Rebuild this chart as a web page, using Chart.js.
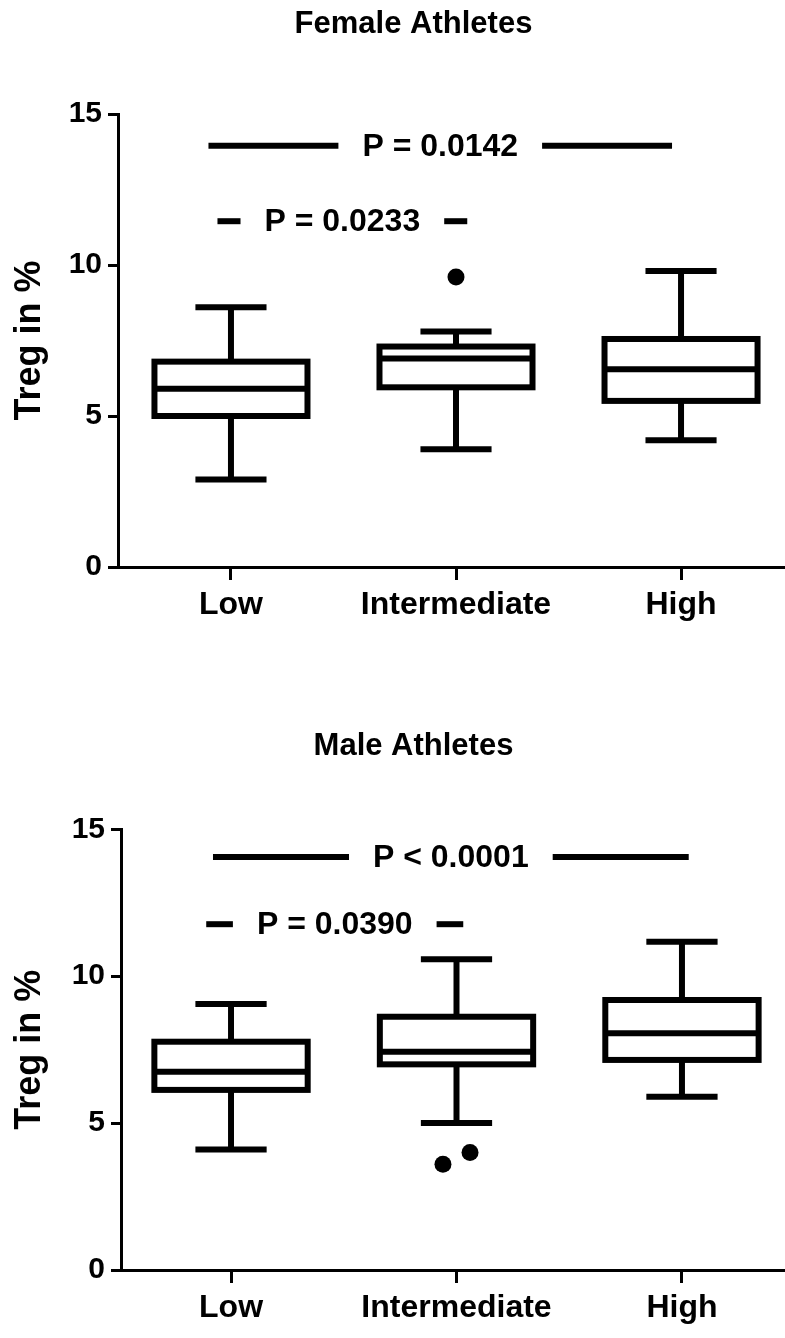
<!DOCTYPE html>
<html>
<head>
<meta charset="utf-8">
<script src="https://cdn.jsdelivr.net/npm/chart.js@4.4.1/dist/chart.umd.min.js"></script>
<style>
  html, body { margin: 0; padding: 0; background: #fff; }
  canvas { display: block; }
</style>
</head>
<body>
<canvas id="female" width="785" height="669"></canvas>
<canvas id="male" width="785" height="669"></canvas>
<script>
// Activity groups on the x axis
const groups = ['Low', 'Intermediate', 'High'];
const yTicks = [0, 5, 10, 15];

// Female athletes: Treg (%) box statistics per group
const femaleMin    = [2.9, 3.9, 4.2];
const femaleQ1     = [5.0, 5.95, 5.5];
const femaleMedian = [5.9, 6.9, 6.55];
const femaleQ3     = [6.8, 7.3, 7.55];
const femaleMax    = [8.6, 7.8, 9.8];
const femaleOutlierGroup = [1];
const femaleOutlierValue = [9.6];
const femaleSigLabel = ['P = 0.0142', 'P = 0.0233'];
const femaleSigLevel = [13.95, 11.45];
const femaleSigFrom  = [-0.1, -0.06];
const femaleSigTo    = [1.96, 1.05];

// Male athletes: Treg (%) box statistics per group
const maleMin    = [4.1, 5.0, 5.9];
const maleQ1     = [6.13, 7.0, 7.15];
const maleMedian = [6.75, 7.43, 8.06];
const maleQ3     = [7.77, 8.62, 9.19];
const maleMax    = [9.05, 10.58, 11.17];
const maleOutlierGroup = [1, 1];
const maleOutlierValue = [3.6, 4.0];
const maleSigLabel = ['P < 0.0001', 'P = 0.0390'];
const maleSigLevel = [14.06, 11.77];
const maleSigFrom  = [-0.08, -0.11];
const maleSigTo    = [2.03, 1.03];

const FONT = "'Liberation Sans', Arial, Helvetica, sans-serif";

// Draws whiskers, boxes, medians and significance bars with the chart's own scales,
// and the panel heading above the plot.
const boxPlotPlugin = {
  id: 'boxPlot',
  beforeDatasetsDraw(chart, args, opts) {
    const { ctx } = chart;
    const x = chart.scales.x, y = chart.scales.y;
    const s = opts.stats;
    const seg = (x1, y1, x2, y2) => { ctx.beginPath(); ctx.moveTo(x1, y1); ctx.lineTo(x2, y2); ctx.stroke(); };
    ctx.save();
    ctx.strokeStyle = '#000';
    ctx.lineWidth = opts.lineWidth;
    ctx.lineCap = 'butt';
    ctx.lineJoin = 'miter';
    s.median.forEach((m, i) => {
      const xc = x.getPixelForValue(i);
      const xl = x.getPixelForValue(i - opts.boxHalf);
      const xr = x.getPixelForValue(i + opts.boxHalf);
      const cl = x.getPixelForValue(i - opts.capHalf);
      const cr = x.getPixelForValue(i + opts.capHalf);
      const pMin = y.getPixelForValue(s.min[i]);
      const pQ1 = y.getPixelForValue(s.q1[i]);
      const pMed = y.getPixelForValue(m);
      const pQ3 = y.getPixelForValue(s.q3[i]);
      const pMax = y.getPixelForValue(s.max[i]);
      seg(xc, pQ3, xc, pMax);
      seg(xc, pQ1, xc, pMin);
      seg(cl, pMax, cr, pMax);
      seg(cl, pMin, cr, pMin);
      ctx.strokeRect(xl, pQ3, xr - xl, pQ1 - pQ3);
      seg(xl, pMed, xr, pMed);
    });
    // significance bars with the P value centred on each bar
    const sig = opts.sig;
    ctx.font = 'bold ' + opts.sigFontSize + 'px ' + FONT;
    ctx.fillStyle = '#000';
    ctx.textAlign = 'center';
    ctx.textBaseline = 'middle';
    sig.label.forEach((label, k) => {
      const x1 = x.getPixelForValue(sig.from[k]);
      const x2 = x.getPixelForValue(sig.to[k]);
      const py = y.getPixelForValue(sig.level[k]);
      const cx = (x1 + x2) / 2;
      const half = ctx.measureText(label).width / 2 + opts.sigGap;
      seg(x1, py, cx - half, py);
      seg(cx + half, py, x2, py);
      ctx.fillText(label, cx, py + 1);
    });
    // panel heading
    ctx.font = 'bold ' + opts.headingSize + 'px ' + FONT;
    ctx.fillText(opts.heading, opts.headingX, opts.headingY);
    ctx.restore();
  }
};

function makeChart(id, cfg) {
  const outliers = cfg.outlierGroup.map((g, i) => {
    const same = cfg.outlierGroup.filter(v => v === g).length;
    const rank = cfg.outlierGroup.slice(0, i).filter(v => v === g).length;
    const spread = same > 1 ? (rank - (same - 1) / 2) * 0.12 : 0;
    return { x: g + spread, y: cfg.outlierValue[i] };
  });
  return new Chart(document.getElementById(id), {
    type: 'scatter',
    data: {
      datasets: [{
        data: outliers,
        pointRadius: 8.5,
        pointHoverRadius: 8.5,
        backgroundColor: '#000',
        borderWidth: 0,
        clip: false
      }]
    },
    options: {
      responsive: false,
      animation: false,
      devicePixelRatio: 1,
      events: [],
      layout: { autoPadding: false, padding: { top: cfg.plotTop, left: 0, right: 0, bottom: 0 } },
      plugins: {
        legend: { display: false },
        tooltip: { enabled: false },
        title: { display: false },
        boxPlot: {
          stats: cfg.stats,
          sig: cfg.sig,
          heading: cfg.title,
          headingX: 413.5,
          headingY: cfg.titleY,
          headingSize: 31,
          lineWidth: 6,
          boxHalf: 0.34,
          capHalf: 0.158,
          sigGap: 24,
          sigFontSize: 32
        }
      },
      scales: {
        x: {
          type: 'linear',
          min: cfg.xMin,
          max: cfg.xMax,
          afterBuildTicks: s => { s.ticks = groups.map((g, i) => ({ value: i })); },
          afterFit: s => { s.height = cfg.xAxisHeight; },
          ticks: {
            callback: v => groups[v],
            color: '#000',
            font: { family: FONT, size: 32, weight: 'bold' },
            padding: 6,
            maxRotation: 0,
            autoSkip: false
          },
          grid: { drawOnChartArea: false, drawTicks: true, tickLength: 13, tickWidth: 3, tickColor: '#000' },
          border: { display: true, color: '#000', width: 3 }
        },
        y: {
          min: 0,
          max: 15,
          afterBuildTicks: s => { s.ticks = yTicks.map(v => ({ value: v })); },
          afterFit: s => { s.width = cfg.yAxisWidth; },
          ticks: { color: '#000', font: { family: FONT, size: 30, weight: 'bold' }, padding: 6 },
          grid: { drawOnChartArea: false, drawTicks: true, tickLength: 10, tickWidth: 3, tickColor: '#000' },
          border: { display: true, color: '#000', width: 3 },
          title: {
            display: true,
            text: 'Treg in %',
            color: '#000',
            font: { family: FONT, size: 36, weight: 'bold', lineHeight: 1.2 },
            padding: { top: 8, bottom: 0 }
          }
        }
      }
    },
    plugins: [boxPlotPlugin]
  });
}

makeChart('female', {
  title: 'Female Athletes',
  titleY: 24,
  plotTop: 114,
  xAxisHeight: 102, yAxisWidth: 118,
  xMin: -0.502, xMax: 2.462,
  stats: { min: femaleMin, q1: femaleQ1, median: femaleMedian, q3: femaleQ3, max: femaleMax },
  outlierGroup: femaleOutlierGroup, outlierValue: femaleOutlierValue,
  sig: { label: femaleSigLabel, level: femaleSigLevel, from: femaleSigFrom, to: femaleSigTo }
});

makeChart('male', {
  title: 'Male Athletes',
  titleY: 77,
  plotTop: 160.3,
  xAxisHeight: 68, yAxisWidth: 121,
  xMin: -0.488, xMax: 2.457,
  stats: { min: maleMin, q1: maleQ1, median: maleMedian, q3: maleQ3, max: maleMax },
  outlierGroup: maleOutlierGroup, outlierValue: maleOutlierValue,
  sig: { label: maleSigLabel, level: maleSigLevel, from: maleSigFrom, to: maleSigTo }
});
</script>
</body>
</html>
